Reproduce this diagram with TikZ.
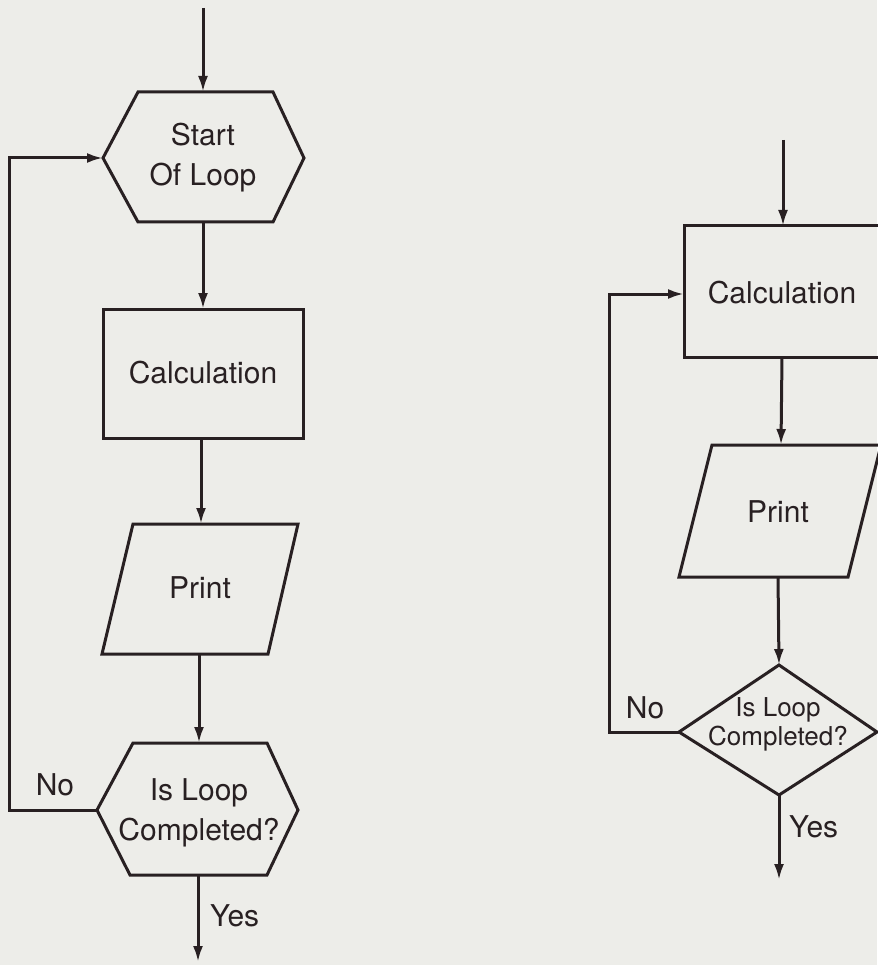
\documentclass[tikz,border=0pt]{standalone}
\usepackage{fontspec}
\setmainfont{TeX Gyre Heros}
\usetikzlibrary{arrows.meta}
\definecolor{paper}{RGB}{237,237,233}
\definecolor{ink}{RGB}{40,32,34}
\begin{document}
\begin{tikzpicture}[x=1pt,y=-1pt,
  outline/.style={draw=ink,line width=3pt,line join=miter},
  flow/.style={draw=ink,line width=3pt,-{Latex[length=16pt,width=10pt]}},
  txt/.style={text=ink,font=\fontsize{30}{40}\selectfont,align=center,inner sep=0pt},
  smalltxt/.style={text=ink,font=\fontsize{26}{29}\selectfont,align=center,inner sep=0pt}]
\fill[paper] (0,0) rectangle (877,965);
\useasboundingbox (0,0) rectangle (877,965);

% ---------- left chart: loop with a start-of-loop box ----------
% start of loop (hexagon)
\draw[outline] (138,92) -- (273,92) -- (304,158) -- (273,222) -- (138,222) -- (103,158) -- cycle;
\node[txt] (startA) at (203,158) {Start\\Of Loop};
\coordinate (startAin) at (203,92);
\coordinate (startAout) at (203,222);
\coordinate (startAwest) at (103,158);
% calculation
\draw[outline] (103,309) rectangle (303,438);
\node[txt] (calcA) at (203,373) {Calculation};
\coordinate (calcAin) at (203,309);
\coordinate (calcAout) at (201,438);
% print (parallelogram)
\draw[outline] (133,524) -- (298,524) -- (268,654) -- (102,654) -- cycle;
\node[txt] (printA) at (200,588) {Print};
\coordinate (printAin) at (201,524);
\coordinate (printAout) at (199,654);
% test (hexagon)
\draw[outline] (133,743) -- (267,743) -- (298,810) -- (267,875) -- (130,875) -- (97,810) -- cycle;
\node[txt] (testA) at (199,813) {Is Loop\\Completed?};
\coordinate (testAin) at (199,743);
\coordinate (testAout) at (198,875);
\coordinate (testAwest) at (97,810);
% connectors
\coordinate (entryA) at (203,8);
\coordinate (exitA) at (198,962);
\coordinate (backA1) at (9,810);
\coordinate (backA2) at (9,158);
\draw[flow] (entryA) -- (startAin);
\draw[flow] (startAout) -- (calcAin);
\draw[flow] (calcAout) -- (printAin);
\draw[flow] (printAout) -- (testAin);
\draw[flow] (testAout) -- (exitA);
\draw[flow] (testAwest) -- (backA1) -- (backA2) -- (startAwest);
\node[txt,anchor=center] (noA) at (55,785) {No};
\node[txt,anchor=west] (yesA) at (210,916) {Yes};

% ---------- right chart: loop back into the calculation ----------
% calculation
\draw[outline] (684,226) rectangle (881,357);
\node[txt] (calcB) at (782,293) {Calculation};
\coordinate (calcBin) at (783,226);
\coordinate (calcBout) at (782,357);
\coordinate (calcBwest) at (684,294);
% print (parallelogram)
\draw[outline] (712,445) -- (881,445) -- (848,577) -- (679,577) -- cycle;
\node[txt] (printB) at (778,512) {Print};
\coordinate (printBin) at (781,445);
\coordinate (printBout) at (778,577);
% test (diamond)
\draw[outline] (779,665) -- (877,732) -- (779,795) -- (679,732) -- cycle;
\node[smalltxt] (testB) at (778,724) {Is Loop\\Completed?};
\coordinate (testBin) at (779,665);
\coordinate (testBout) at (779,795);
\coordinate (testBwest) at (679,732);
% connectors
\coordinate (entryB) at (783,140);
\coordinate (exitB) at (779,880);
\coordinate (backB1) at (609,732);
\coordinate (backB2) at (609,294);
\draw[flow] (entryB) -- (calcBin);
\draw[flow] (calcBout) -- (printBin);
\draw[flow] (printBout) -- (testBin);
\draw[flow] (testBout) -- (exitB);
\draw[flow] (testBwest) -- (backB1) -- (backB2) -- (calcBwest);
\node[txt,anchor=center] (noB) at (645,708) {No};
\node[txt,anchor=west] (yesB) at (789,827) {Yes};
\end{tikzpicture}
\end{document}
